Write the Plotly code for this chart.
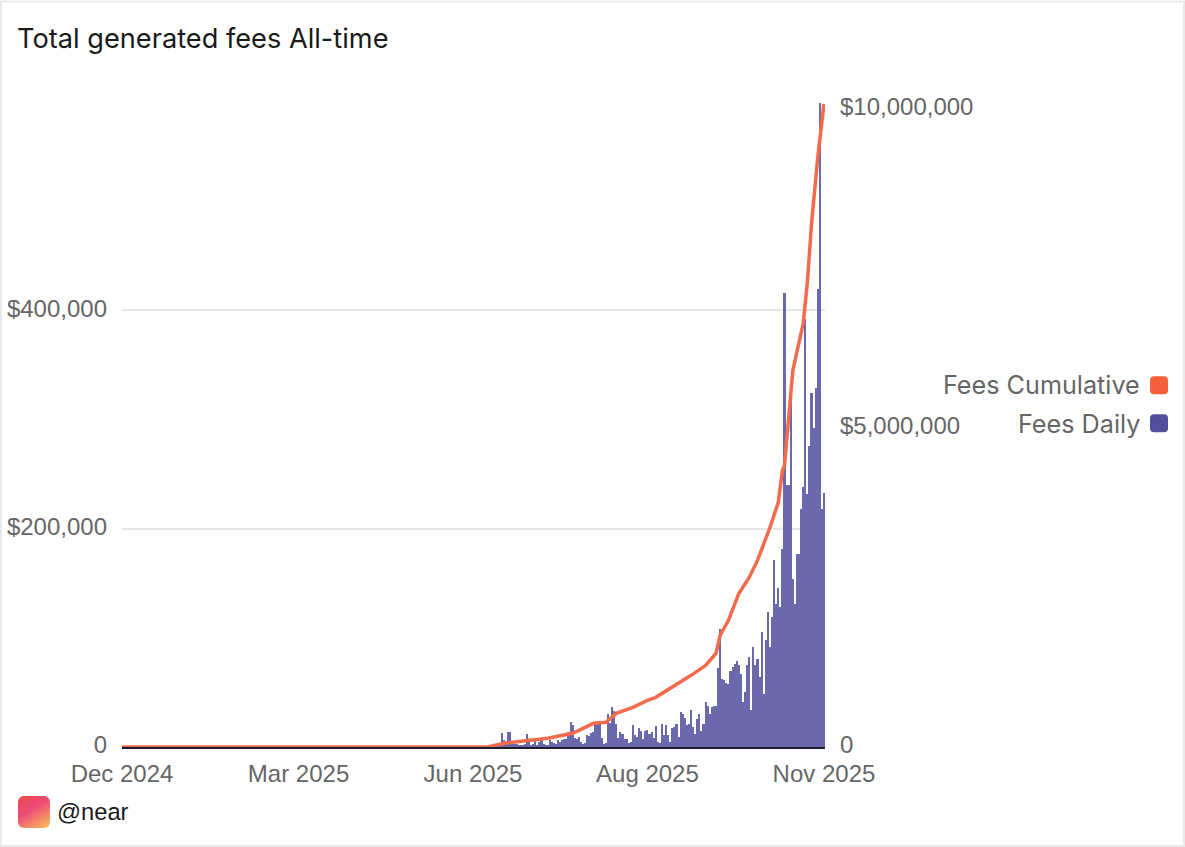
import base64
import pandas as pd
import plotly.graph_objects as go

TITLE = "Total generated fees All-time"
HANDLE = "@near"
SERIES_DAILY = "Fees Daily"
SERIES_CUM = "Fees Cumulative"
START_DATE = "2024-12-15"
TOTAL_DAYS = 339

# Daily fees in thousand dollars, from the first non-zero day to the last day
daily_k = [
    0, 1, 3, 3, 1, 2, 13, 6, 3, 14, 14, 3, 3, 3, 2, 2, 2, 3, 12, 5, 2, 3, 6, 2, 5, 6, 3, 2, 1, 6, 5, 4, 3, 6, 5, 6, 7, 7,
    14, 23, 20, 8, 7,
    9, 5, 3, 4, 11, 10, 13, 14, 21, 21, 21, 8, 3, 4, 30, 22, 37, 33, 21, 8, 14, 12, 7, 7, 4, 5, 20, 11, 9, 17, 15, 7,
    15, 16, 12, 14, 8, 19, 5, 4,
    21, 11, 20, 11, 5, 17, 18, 21, 9, 32, 30, 27, 20, 21, 34, 18, 12, 26, 30, 15, 21, 41, 38, 30, 37, 38, 38, 72, 108,
    62, 61, 59, 58, 70, 73, 76, 79, 75, 67, 41, 50, 75, 82,
    34, 92, 75, 81, 64, 105, 49, 98, 124, 92, 119, 171, 131, 146, 128, 181,
    416, 240, 240, 324, 154, 131, 177, 177, 218, 238, 392, 232, 276, 324, 292, 329, 420, 590, 218, 233,
]

cum_dates = [
    "2024-12-15", "2025-06-09", "2025-06-17", "2025-06-29", "2025-07-08", "2025-07-20", "2025-07-30", "2025-08-05",
    "2025-08-10", "2025-08-18", "2025-08-25", "2025-08-29", "2025-09-05", "2025-09-15", "2025-09-22", "2025-09-27",
    "2025-09-29", "2025-10-03", "2025-10-08", "2025-10-13", "2025-10-17", "2025-10-23", "2025-10-27", "2025-10-29",
    "2025-10-30", "2025-11-02", "2025-11-03", "2025-11-08", "2025-11-09", "2025-11-10", "2025-11-12", "2025-11-15",
    "2025-11-18",
]
cum_values = [
    0, 0, 58000, 105000, 136000, 214000, 371000, 387000,
    527000, 621000, 731000, 778000, 919000, 1122000, 1279000, 1466000,
    1748000, 1983000, 2405000, 2656000, 2922000, 3438000, 3829000, 4330000,
    4408000, 5629000, 5895000, 6631000, 6950000, 7270000, 8190000, 9230000,
    10070000,
]

x_tick_dates = ["2024-12-15", "2025-03-10", "2025-06-02", "2025-08-25", "2025-11-18"]
x_tick_text = ["Dec 2024", "Mar 2025", "Jun 2025", "Aug 2025", "Nov 2025"]
left_ticks = [0, 200000, 400000]
left_text = ["0", "$200,000", "$400,000"]
right_ticks = [0, 5000000, 10000000]
right_text = ["0", "$5,000,000", "$10,000,000"]

WIDTH, HEIGHT = 1185, 847
L, R, T, B = 122, 825, 91.5, 747
GREY = "#666666"
ORANGE = "#F4603C"
BLUE = "#50509C"


def px(x):
    return (x - L) / (R - L)


def py(y):
    return (B - y) / (B - T)


daily_values = [0] * (TOTAL_DAYS - len(daily_k)) + [v * 1000 for v in daily_k]
dates = pd.date_range(START_DATE, periods=TOTAL_DAYS, freq="D")

fig = go.Figure()
fig.add_trace(go.Bar(x=dates, y=daily_values, name=SERIES_DAILY, yaxis="y",
                     marker=dict(color="#6262A8", line=dict(width=0)), opacity=0.95))
fig.add_trace(go.Scatter(x=pd.to_datetime(cum_dates), y=cum_values, name=SERIES_CUM, yaxis="y2", mode="lines",
                         line=dict(color="#F46A4C", width=3.5)))

svg = (
    '<svg xmlns="http://www.w3.org/2000/svg" width="64" height="64"><defs>'
    '<linearGradient id="g" x1="0.2" y1="0" x2="0.8" y2="1">'
    '<stop offset="0" stop-color="#EF4A50"/><stop offset="0.4" stop-color="#EC4A78"/>'
    '<stop offset="1" stop-color="#F8B45C"/></linearGradient></defs>'
    '<rect width="64" height="64" rx="12" fill="url(#g)"/></svg>'
)
logo = "data:image/svg+xml;base64," + base64.b64encode(svg.encode()).decode()


def swatch(x0, y0, x1, y1, color, r=4):
    a, b, c, d = px(x0), py(y0), px(x1), py(y1)
    rx = r / (R - L)
    ry = r / (B - T)
    path = (f"M {a + rx} {b} L {c - rx} {b} Q {c} {b} {c} {b - ry} L {c} {d + ry} Q {c} {d} {c - rx} {d} "
            f"L {a + rx} {d} Q {a} {d} {a} {d + ry} L {a} {b - ry} Q {a} {b} {a + rx} {b} Z")
    return dict(type="path", xref="paper", yref="paper", path=path, fillcolor=color, line=dict(width=0))


fig.update_layout(
    width=WIDTH, height=HEIGHT, autosize=False,
    margin=dict(l=L, r=WIDTH - R, t=T, b=HEIGHT - B, pad=0, autoexpand=False),
    paper_bgcolor="white", plot_bgcolor="white", showlegend=False, bargap=0,
    font=dict(family="Liberation Sans, Arial, sans-serif", size=24, color=GREY),
    xaxis=dict(type="date", range=[START_DATE, "2025-11-18 12:00"], tickmode="array", tickvals=x_tick_dates,
               ticktext=x_tick_text, showgrid=False, ticks="", showline=True, linecolor="#1c1c2e", linewidth=2,
               zeroline=False, ticklabelstandoff=4, tickfont=dict(size=24, color=GREY)),
    yaxis=dict(range=[0, 600000], tickmode="array", tickvals=left_ticks, ticktext=left_text, showgrid=True,
               gridcolor="#E6E6E6", gridwidth=2, zeroline=False, showline=False, ticks="", ticklabelstandoff=14,
               ticklabelshift=-2, tickfont=dict(size=24, color=GREY)),
    yaxis2=dict(range=[0, 10258000], overlaying="y", side="right", tickmode="array", tickvals=right_ticks,
                ticktext=right_text, showgrid=False, zeroline=False, showline=False, ticks="", ticklabelstandoff=14,
                ticklabelshift=-2, tickfont=dict(size=24, color=GREY)),
    annotations=[
        dict(text=TITLE, xref="paper", yref="paper", x=px(15), y=py(38), xanchor="left", yanchor="middle",
             showarrow=False, font=dict(family="Inter", size=27.2, color="#1a1a1a")),
        dict(text=HANDLE, xref="paper", yref="paper", x=px(55), y=py(812), xanchor="left", yanchor="middle",
             showarrow=False, font=dict(family="Liberation Sans", size=23.7, color="#1a1a1a")),
        dict(text=SERIES_CUM, xref="paper", yref="paper", x=px(1142), y=py(385), xanchor="right", yanchor="middle",
             showarrow=False, font=dict(family="Inter", size=25.2, color=GREY)),
        dict(text=SERIES_DAILY, xref="paper", yref="paper", x=px(1142), y=py(424), xanchor="right", yanchor="middle",
             showarrow=False, font=dict(family="Inter", size=25.2, color=GREY)),
    ],
    shapes=[
        dict(type="rect", xref="paper", yref="paper", x0=px(1), y0=py(1), x1=px(1184), y1=py(846),
             line=dict(color="#E9E9E9", width=2), fillcolor="rgba(0,0,0,0)", layer="below"),
        swatch(1150, 376, 1168, 394, ORANGE),
        swatch(1150, 414, 1168, 432, BLUE),
    ],
    images=[dict(source=logo, xref="paper", yref="paper", x=px(18), y=py(796), sizex=32 / (R - L),
                 sizey=32 / (B - T), xanchor="left", yanchor="top", sizing="stretch", layer="above")],
)

fig.write_html("out.html", config=dict(displayModeBar=False), post_script="document.body.style.margin='0';")
